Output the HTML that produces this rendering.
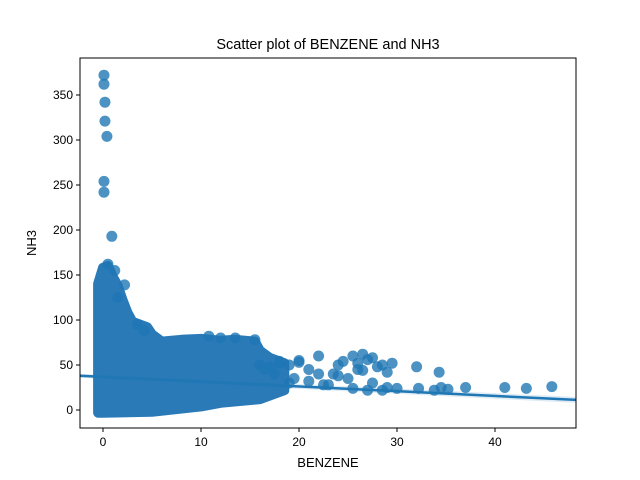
<!DOCTYPE html>
<html><head><meta charset="utf-8"><style>
body{margin:0;background:#fff}
svg{display:block;font-family:"Liberation Sans","DejaVu Sans",sans-serif}
</style></head><body>
<svg id="chart" width="640" height="480">
<rect width="640" height="480" fill="#fff"/>
<text x="328" y="49" font-size="14.5" text-anchor="middle">Scatter plot of BENZENE and NH3</text>
<g id="plot"></g>
<rect x="80" y="58" width="496" height="370" fill="none" stroke="#000" stroke-width="1"/>
<g id="axes" font-size="12"></g>
<text x="328" y="467" font-size="13" text-anchor="middle">BENZENE</text>
<text x="36" y="243" font-size="13" text-anchor="middle" transform="rotate(-90 36 243)">NH3</text>
</svg>
<script>
const xTicks=[0,10,20,30,40];
const yTicks=[0,50,100,150,200,250,300,350];
const blobUpperX=[-0.5,-0.5,0,0.5,1,1.5,2,2.5,3,4.5,5,6,8,10,12,13.5,15.5,16,17,18.5];
const blobUpperY=[0,140,158,160,148,138,122,108,98,92,84,76,78,79,77,78,76,66,58,52];
const blobLowerX=[18.5,16,12,10,5,0,-0.5];
const blobLowerY=[22,12,8,4,-2,-3,-3];
const ptX=[0.1,0.1,0.2,0.2,0.4,0.1,0.1,0.9,0.5,1.2,2.2,1.5,3.5,4.2,10.8,12,13.5,15.5,22,25.5,26.5,27.5,29.5,32,34.3,25,23.5,27.5,29,32.2,34.5,35.2,37,41,43.2,45.8,24,26,28,20,18,16,19,21,23,25.5,27,28.5,30,33.8,22.5,17,18,19,20,21,17.5,19.5,16.5,24.5,26,27,28.5,22,24,26.5,29];
const ptY=[372,362,342,321,304,254,242,193,162,155,139,125,95,88,82,80,80,78,60,60,62,58,52,48,42,35,40,30,25,24,25,23,25,25,24,26,50,45,48,55,52,50,30,32,28,24,22,22,24,22,28,48,54,50,53,45,40,35,45,54,52,56,50,40,38,44,42];
const regIntercept=36.8, regSlope=-0.53;
const X=v=>103+v*9.8, Y=v=>410-v*0.9;
const NS='http://www.w3.org/2000/svg';
const plot=document.getElementById('plot'), axes=document.getElementById('axes');
function mk(t,a,p){const e=document.createElementNS(NS,t);for(const k in a)e.setAttribute(k,a[k]);p.appendChild(e);return e;}
let pts=[];
blobUpperX.forEach((x,i)=>pts.push(X(x)+','+Y(blobUpperY[i])));
blobLowerX.forEach((x,i)=>pts.push(X(x)+','+Y(blobLowerY[i])));
const blob=mk('polygon',{points:pts.join(' '),fill:'#2a7ab8',stroke:'#2a7ab8','stroke-width':10,'stroke-linejoin':'round'},plot);


ptX.forEach((x,i)=>{const c=mk('circle',{cx:X(x),cy:Y(ptY[i]),r:5.5,fill:'#1f77b4','fill-opacity':0.8},plot);

});
const x0=-2.35,x1=48.3;
mk('polygon',{points:`${X(x0)},${Y(regIntercept+regSlope*x0)-2} ${X(x1)},${Y(regIntercept+regSlope*x1)-3} ${X(x1)},${Y(regIntercept+regSlope*x1)+3} ${X(x0)},${Y(regIntercept+regSlope*x0)+2}`,fill:'#1f77b4','fill-opacity':0.15},plot);
const ln=mk('line',{x1:X(x0),y1:Y(regIntercept+regSlope*x0),x2:X(x1),y2:Y(regIntercept+regSlope*x1),stroke:'#1f77b4','stroke-width':2.5},plot);


xTicks.forEach(t=>{mk('line',{x1:X(t),x2:X(t),y1:428,y2:432,stroke:'#000'},axes);
const tx=mk('text',{x:X(t),y:446,'text-anchor':'middle'},axes);tx.textContent=t;

});
yTicks.forEach(t=>{mk('line',{x1:76,x2:80,y1:Y(t),y2:Y(t),stroke:'#000'},axes);
const tx=mk('text',{x:73,y:Y(t)+4,'text-anchor':'end'},axes);tx.textContent=t;

});
</script>
</body></html>
